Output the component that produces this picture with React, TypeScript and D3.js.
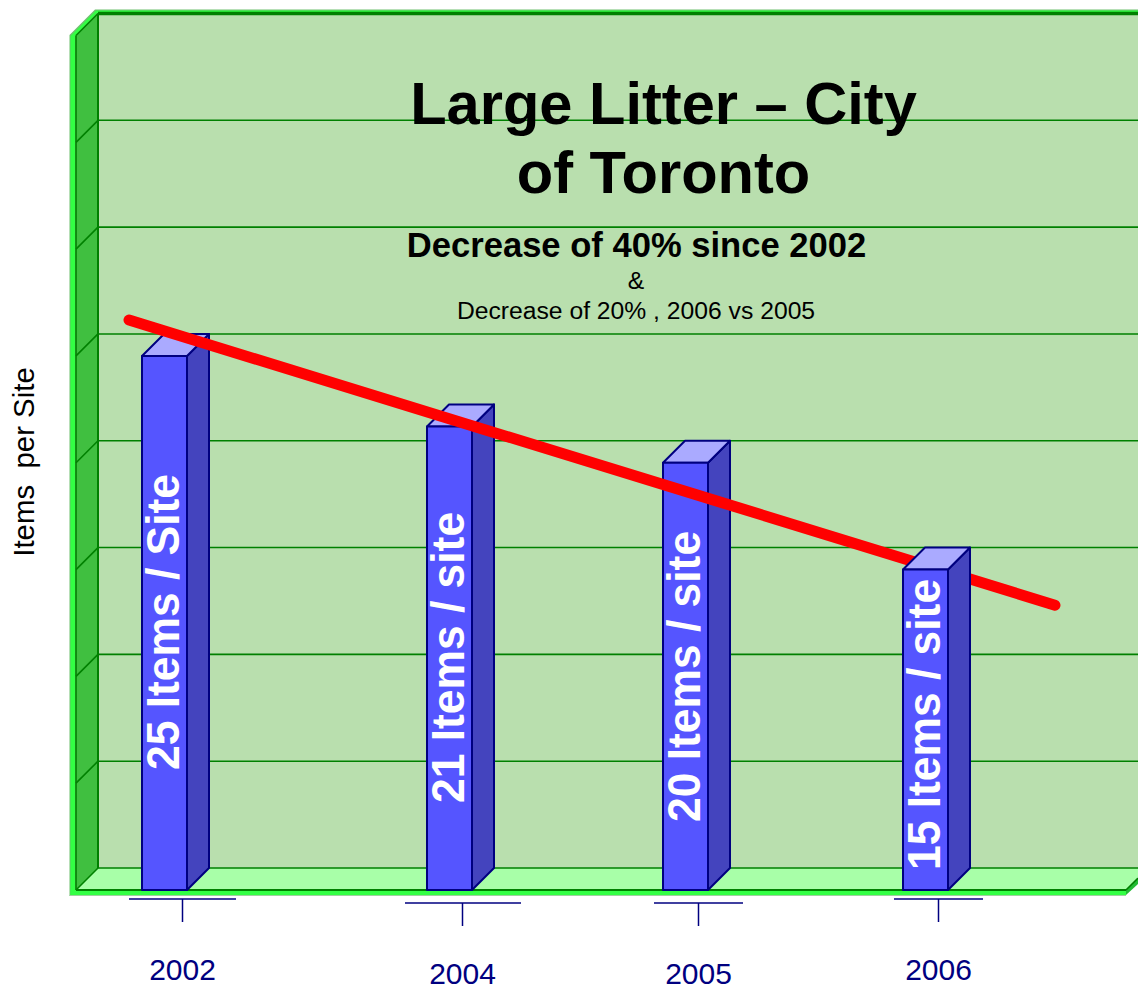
import React from "react";
import * as d3 from "d3";

const categories = ["2002", "2004", "2005", "2006"];
const barValues = [25, 21.7, 20, 15];
const barLabels = ["25 Items / Site", "21 Items / site", "20 Items / site", "15 Items / site"];
const gridValues = [0, 5, 10, 15, 20, 25, 30, 35];
const trendPositions = [0, 1];
const trendValues = [25.65, 12.3];
const titleLines = ["Large Litter \u2013 City", "of Toronto"];
const subtitle = "Decrease of 40% since 2002";
const noteLines = ["&", "Decrease of 20% , 2006 vs 2005"];
const yAxisTitle = "Items\u00a0 per Site";

const FONT = "'Liberation Sans', Arial, sans-serif";
const NAVY = "#000080";
const DARK = "#008000";

export default function App() {
  const y = d3.scaleLinear().domain([0, 40]).range([868, 13.5]);
  const dx = 22;
  const dy = 22;
  const barW = 45;
  const xBar = d3.scaleOrdinal<string, number>().domain(categories).range([142, 427, 663, 903]);
  const labelStart = d3.scaleOrdinal<string, number>().domain(categories).range([770, 803, 822, 870]);
  const xTick = d3.scaleOrdinal<string, number>().domain(categories).range([182.5, 462.5, 698.5, 938.5]);
  const tickHalf = d3.scaleOrdinal<string, [number, number]>().domain(categories).range([[129, 236], [405, 521], [654, 743], [894, 983]]);
  const tickTop = d3.scaleOrdinal<string, number>().domain(categories).range([899, 903, 903, 899]);
  const xTrend = d3.scaleLinear().domain([0, 1]).range([129, 1055]);
  const trendLine = d3.line<number>().x((_, i) => xTrend(trendPositions[i])).y((d) => y(d));

  const wallL = 98, W = 1138, floorBack = y(0), floorFront = floorBack + dy, top = y(40);
  const frontL = wallL - dx;

  const bar = (c: string, i: number) => {
    const x0 = xBar(c);
    const bottom = floorFront;
    const t = y(barValues[i]) + dy;
    const x1 = x0 + barW;
    return (
      <g key={c} stroke={NAVY} strokeWidth={2} strokeLinejoin="round">
        <polygon points={`${x1},${t} ${x1 + dx},${t - dy} ${x1 + dx},${bottom - dy} ${x1},${bottom}`} fill="#4444BE" />
        <polygon points={`${x0},${t} ${x0 + dx},${t - dy} ${x1 + dx},${t - dy} ${x1},${t}`} fill="#AAAAFF" />
        <rect x={x0} y={t} width={barW} height={bottom - t} fill="#5555FF" />
        <text
          transform={`translate(${x0 + 37},${labelStart(c)}) rotate(-90) scale(0.965,1)`}
          fontFamily={FONT} fontWeight="bold" fontSize={46} fill="#fff" stroke="none"
        >{barLabels[i]}</text>
      </g>
    );
  };

  return (
    <svg width={1138} height={985} viewBox="0 0 1138 985" style={{ position: "absolute", left: 0, top: 0, display: "block", background: "#fff" }}>
      {/* left outer strip */}
      <polygon points={`69.5,35 95,9.5 ${W},9.5 ${W},16 98,16 76,36 76,896 69.5,896`} fill="#6FBF6F" />
      <polygon points={`70.5,36 96,10.5 ${W},10.5 ${W},13 97,13 75,36 75,895 70.5,895`} fill="#33FF44" />
      {/* back wall */}
      <rect x={wallL} y={top} width={W - wallL} height={floorBack - top} fill="#B9DFAE" />
      {/* left wall */}
      <polygon points={`${frontL},${top + dy} ${wallL},${top} ${wallL},${floorBack} ${frontL},${floorFront}`} fill="#40BF40" />
      {/* floor */}
      <polygon points={`${frontL},${floorFront} ${wallL},${floorBack} ${W},${floorBack} ${W},877 1126,${floorFront}`} fill="#A8FFA8" />
      {/* floor slab */}
      <polygon points={`70.5,${floorFront} 1126,${floorFront} 1126,895 70.5,895`} fill="#33FF44" />
      <polygon points={`1126,${floorFront} ${W},878 ${W},884 1126,895`} fill="#22BB33" />
      <line x1={69.5} x2={1126} y1={895.5} y2={895.5} stroke="#A0D0A0" strokeWidth={1} />
      {/* grid */}
      <g stroke={DARK} strokeWidth={1.6} fill="none">
        {gridValues.map((v) => (
          <g key={v}>
            <line x1={wallL} x2={W} y1={y(v)} y2={y(v)} />
            <line x1={frontL} x2={wallL} y1={y(v) + dy} y2={y(v)} />
          </g>
        ))}
        <line x1={wallL} x2={W} y1={top} y2={top} strokeWidth={3.5} />
        <line x1={wallL} x2={wallL} y1={top} y2={floorBack} strokeWidth={2} />
        <line x1={frontL} x2={frontL} y1={top + dy} y2={floorFront} strokeWidth={1.6} />
        <line x1={frontL} x2={wallL} y1={top + dy} y2={top} strokeWidth={1.6} />
        <line x1={frontL} x2={1126} y1={floorFront} y2={floorFront} strokeWidth={2} />
        <line x1={1126} x2={W} y1={floorFront} y2={floorFront - 12} strokeWidth={1.6} />
      </g>

      {/* titles */}
      <g fontFamily={FONT} textAnchor="middle" fill="#000">
        <text x={663.5} y={124} fontSize={59.6} fontWeight="bold">{titleLines[0]}</text>
        <text x={663.5} y={193} fontSize={59.6} fontWeight="bold">{titleLines[1]}</text>
        <text x={636.5} y={257} fontSize={34.6} fontWeight="bold">{subtitle}</text>
        <text x={636} y={289} fontSize={24.7}>{noteLines[0]}</text>
        <text x={636} y={319} fontSize={24.7}>{noteLines[1]}</text>
      </g>

      {/* bars and trend: the last bar stands in front of the line */}
      {categories.slice(0, 3).map(bar)}
      <path d={trendLine(trendValues) ?? ""} fill="none" stroke="#FF0000" strokeWidth={11} strokeLinecap="round" />
      {bar(categories[3], 3)}

      {/* category axis */}
      <g stroke={NAVY} strokeWidth={1.5}>
        {categories.map((c) => (
          <g key={c}>
            <line x1={tickHalf(c)[0]} x2={tickHalf(c)[1]} y1={tickTop(c)} y2={tickTop(c)} />
            <line x1={xTick(c)} x2={xTick(c)} y1={tickTop(c)} y2={tickTop(c) + 23} />
          </g>
        ))}
      </g>
      <g fontFamily={FONT} fontSize={30} fill={NAVY} textAnchor="middle">
        {categories.map((c) => (
          <text key={c} x={xTick(c)} y={tickTop(c) + 81}>{c}</text>
        ))}
      </g>

      <text transform="translate(34,462) rotate(-90)" fontFamily={FONT} fontSize={29.4} textAnchor="middle" fill="#000">{yAxisTitle}</text>
    </svg>
  );
}
